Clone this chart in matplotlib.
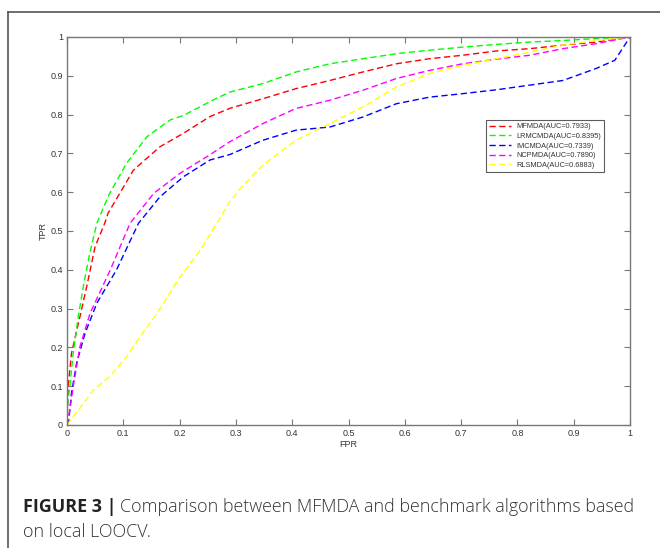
import matplotlib
matplotlib.use('Agg')
import matplotlib.pyplot as plt
from matplotlib.lines import Line2D

plt.rcParams['font.family'] = ['Liberation Sans', 'DejaVu Sans']

# ROC points (FPR, TPR)
mf_fpr = [0, 0.002, 0.008, 0.023, 0.035, 0.05, 0.067, 0.073, 0.118, 0.165, 0.207, 0.254, 0.289, 0.348,
          0.407, 0.467, 0.526, 0.585, 0.644, 0.703, 0.763, 0.822, 0.881, 0.940, 1.0]
mf_tpr = [0, 0.10, 0.185, 0.279, 0.357, 0.46, 0.52, 0.546, 0.657, 0.717, 0.752, 0.795, 0.816, 0.841,
          0.867, 0.888, 0.910, 0.931, 0.944, 0.953, 0.964, 0.970, 0.979, 0.987, 1.0]

lr_fpr = [0, 0.0, 0.005, 0.011, 0.020, 0.029, 0.04, 0.053, 0.075, 0.106, 0.142, 0.183, 0.207, 0.26,
          0.289, 0.348, 0.407, 0.467, 0.526, 0.585, 0.644, 0.703, 0.763, 0.822, 0.881, 0.940, 1.0]
lr_tpr = [0, 0.04, 0.099, 0.185, 0.279, 0.357, 0.44, 0.52, 0.595, 0.675, 0.743, 0.786, 0.798, 0.838,
          0.858, 0.880, 0.910, 0.931, 0.944, 0.957, 0.966, 0.974, 0.981, 0.987, 0.991, 0.996, 1.0]

im_fpr = [0, 0.003, 0.008, 0.017, 0.032, 0.053, 0.088, 0.127, 0.165, 0.207, 0.254, 0.289, 0.348,
          0.407, 0.467, 0.526, 0.585, 0.644, 0.703, 0.763, 0.822, 0.881, 0.940, 0.973, 1.0]
im_tpr = [0, 0.01, 0.082, 0.159, 0.236, 0.314, 0.40, 0.52, 0.588, 0.640, 0.683, 0.697, 0.734,
          0.760, 0.768, 0.794, 0.828, 0.845, 0.854, 0.864, 0.876, 0.888, 0.919, 0.940, 1.0]

nc_fpr = [0, 0.005, 0.011, 0.023, 0.041, 0.077, 0.112, 0.154, 0.201, 0.249, 0.289, 0.348, 0.407,
          0.467, 0.526, 0.585, 0.644, 0.703, 0.763, 0.822, 0.881, 0.940, 1.0]
nc_tpr = [0, 0.039, 0.099, 0.202, 0.288, 0.40, 0.52, 0.597, 0.649, 0.692, 0.730, 0.777, 0.816,
          0.837, 0.863, 0.893, 0.914, 0.931, 0.943, 0.953, 0.970, 0.983, 1.0]

rl_fpr = [0, 0.047, 0.076, 0.106, 0.130, 0.160, 0.201, 0.237, 0.266, 0.289, 0.308, 0.348, 0.407,
          0.467, 0.526, 0.585, 0.644, 0.703, 0.763, 0.822, 0.881, 0.940, 1.0]
rl_tpr = [0, 0.09, 0.125, 0.176, 0.228, 0.288, 0.382, 0.451, 0.52, 0.575, 0.61, 0.67, 0.734,
          0.777, 0.820, 0.871, 0.906, 0.927, 0.944, 0.961, 0.979, 0.991, 1.0]

labels = ['MFMDA(AUC=0.7933)', 'LRMCMDA(AUC=0.8395)', 'IMCMDA(AUC=0.7339)',
          'NCPMDA(AUC=0.7890)', 'RLSMDA(AUC=0.6883)']
colors = ['#ff0000', '#00ff00', '#0000ff', '#ff00ff', '#ffff00']
curves = [(mf_fpr, mf_tpr), (lr_fpr, lr_tpr), (im_fpr, im_tpr), (nc_fpr, nc_tpr), (rl_fpr, rl_tpr)]

fig = plt.figure(figsize=(6.6, 5.48), dpi=100)
ax = fig.add_axes([67 / 660, 1 - 425 / 548, 563 / 660, 388 / 548])

for (x, y), c, lab in zip(curves, colors, labels):
    ax.plot(x, y, color=c, lw=1.0, dashes=(4.5, 2.5), label=lab)

ax.set_xlim(0, 1)
ax.set_ylim(0, 1)
ticks = [0, 0.1, 0.2, 0.3, 0.4, 0.5, 0.6, 0.7, 0.8, 0.9, 1]
tick_txt = ['0', '0.1', '0.2', '0.3', '0.4', '0.5', '0.6', '0.7', '0.8', '0.9', '1']
ax.set_xticks(ticks)
ax.set_xticklabels(tick_txt)
ax.set_yticks(ticks)
ax.set_yticklabels(tick_txt)
ax.tick_params(direction='in', length=4, width=0.8, colors='#777777', labelcolor='#333333',
               labelsize=6.5, top=True, right=True, pad=3)
for s in ax.spines.values():
    s.set_color('#777777')
    s.set_linewidth(1.0)
ax.set_xlabel('FPR', fontsize=6.5, color='#333333', labelpad=1)
ax.set_ylabel('TPR', fontsize=6.5, color='#333333', labelpad=2)

leg = ax.legend(loc='upper left', bbox_to_anchor=(0.744, 0.786), fontsize=5.3, frameon=True,
                fancybox=False, edgecolor='#333333', handlelength=3.0, labelspacing=0.35,
                borderpad=0.4, handletextpad=0.8, borderaxespad=0)
leg.get_frame().set_linewidth(0.8)
for t in leg.get_texts():
    t.set_color('#333333')

# outer panel frame (open to the right and bottom)
fx = 8 / 660
fy = 1 - 12 / 548
fig.add_artist(Line2D([fx, fx], [-0.02, fy], transform=fig.transFigure, color='#555555', lw=1.2))
fig.add_artist(Line2D([fx, 1.02], [fy, fy], transform=fig.transFigure, color='#555555', lw=1.2))

# caption
cap_font = ['Open Sans', 'Liberation Sans', 'DejaVu Sans']
cap_size = 12.9
cx = 23 / 660
t1 = fig.text(cx, 1 - 512 / 548, 'FIGURE 3 |', fontsize=cap_size, fontweight='bold', color='#222222',
              va='baseline', family=cap_font)
fig.canvas.draw()
bb = t1.get_window_extent(fig.canvas.get_renderer())
x2 = (bb.x1 + 4) / fig.bbox.width
fig.text(x2, 1 - 512 / 548, 'Comparison between MFMDA and benchmark algorithms based',
         fontsize=cap_size, fontweight='light', color='#333333', va='baseline', family=cap_font)
fig.text(cx, 1 - 537 / 548, 'on local LOOCV.', fontsize=cap_size, fontweight='light', color='#333333',
         va='baseline', family=cap_font)

fig.savefig('out.png', dpi=100)
